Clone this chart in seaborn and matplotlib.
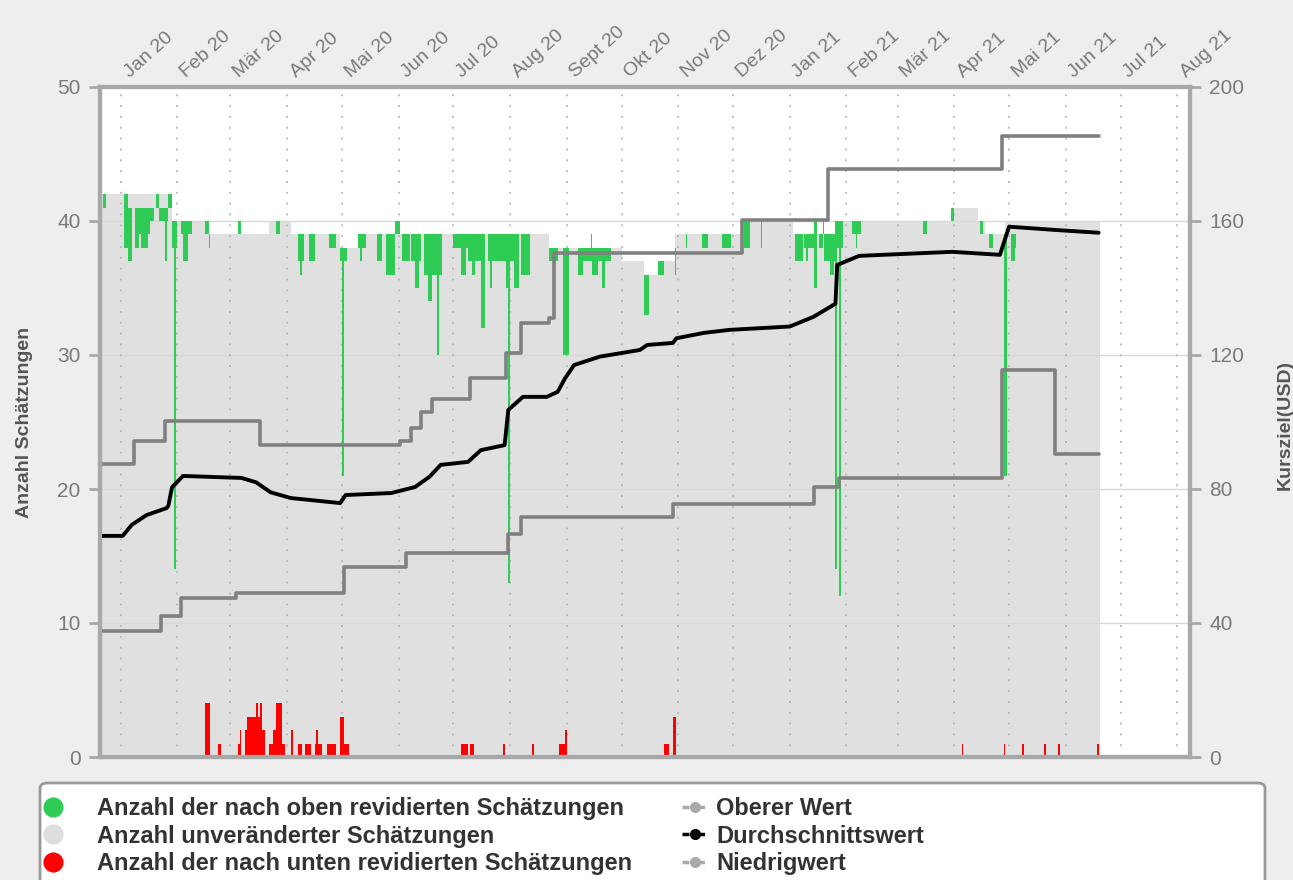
import numpy as np
import pandas as pd
import matplotlib
matplotlib.use("Agg")
import matplotlib.pyplot as plt
import matplotlib.dates as mdates
from matplotlib.lines import Line2D
from matplotlib.patches import FancyBboxPatch
import seaborn as sns

# ---------------- data ----------------
month_labels = ["Jan 20", "Feb 20", "Mär 20", "Apr 20", "Mai 20", "Jun 20", "Jul 20",
                "Aug 20", "Sept 20", "Okt 20", "Nov 20", "Dez 20", "Jan 21", "Feb 21",
                "Mär 21", "Apr 21", "Mai 21", "Jun 21", "Jul 21", "Aug 21"]

# total number of estimates (top of the stack), as step changes
total_start = ["2019-12-21", "2020-01-29", "2020-02-18", "2020-03-22", "2020-04-03",
               "2020-04-30", "2020-05-10", "2020-08-22", "2020-10-01", "2020-10-13",
               "2020-10-22", "2020-10-30", "2020-12-06", "2021-01-03", "2021-01-27",
               "2021-03-31", "2021-04-14", "2021-04-18", "2021-04-29"]
total_count = [42, 40, 39, 40, 39, 38, 39, 38, 37, 36, 37, 39, 40, 39, 40, 41, 40, 39, 40]
data_end = "2021-06-20"

# upward revisions (green): start day, number of days, top, bottom
up_start = ["2019-12-22", "2020-01-03", "2020-01-05", "2020-01-09", "2020-01-11", "2020-01-12",
            "2020-01-16", "2020-01-17", "2020-01-20", "2020-01-22", "2020-01-25", "2020-01-26",
            "2020-01-27", "2020-01-29", "2020-01-30", "2020-02-03", "2020-02-04", "2020-02-07",
            "2020-02-16", "2020-02-18", "2020-03-05", "2020-03-26", "2020-04-07", "2020-04-08",
            "2020-04-13", "2020-04-24", "2020-04-30", "2020-05-01", "2020-05-10", "2020-05-11",
            "2020-05-20", "2020-05-25", "2020-05-30", "2020-06-03", "2020-06-08", "2020-06-10",
            "2020-06-15", "2020-06-17", "2020-06-22", "2020-07-01", "2020-07-05", "2020-07-09",
            "2020-07-11", "2020-07-16", "2020-07-20", "2020-07-21", "2020-07-25", "2020-07-30",
            "2020-07-31", "2020-08-03", "2020-08-07", "2020-08-22", "2020-08-30", "2020-09-07",
            "2020-09-07", "2020-09-14", "2020-09-15", "2020-09-20", "2020-10-13", "2020-10-21",
            "2020-10-30", "2020-11-05", "2020-11-14", "2020-11-25", "2020-12-07", "2020-12-16",
            "2021-01-04", "2021-01-09", "2021-01-10", "2021-01-14", "2021-01-17", "2021-01-19",
            "2021-01-20", "2021-01-23", "2021-01-26", "2021-01-27", "2021-01-28", "2021-02-04",
            "2021-02-06", "2021-03-15", "2021-03-30", "2021-04-15", "2021-04-20", "2021-04-28",
            "2021-05-02", "2021-05-04"]
up_days = [2, 2, 2, 2, 1, 4, 1, 2, 2, 3, 1, 1,
           2, 3, 1, 1, 3, 2, 2, 1, 2, 2, 3, 1,
           3, 4, 4, 1, 4, 1, 3, 5, 3, 4, 5, 2,
           10, 2, 1, 8, 3, 9, 2, 2, 5, 1, 12, 2,
           1, 3, 5, 5, 3, 18, 3, 1, 3, 2, 3, 3,
           1, 1, 3, 5, 3, 1, 4, 6, 1, 2, 2, 1,
           6, 2, 1, 3, 1, 5, 1, 2, 2, 2, 2, 2,
           2, 1]
up_top = [42, 42, 41, 41, 41, 41, 41, 41, 42, 41, 41, 41,
          42, 40, 40, 40, 40, 40, 40, 39, 40, 40, 39, 39,
          39, 39, 38, 38, 39, 39, 39, 39, 40, 39, 39, 39,
          39, 39, 39, 39, 39, 39, 39, 39, 39, 39, 39, 39,
          39, 39, 39, 38, 38, 38, 38, 39, 38, 38, 36, 37,
          38, 39, 39, 39, 40, 40, 39, 39, 39, 40, 39, 40,
          39, 39, 40, 40, 40, 40, 40, 40, 41, 40, 39, 39,
          39, 39]
up_low = [41, 38, 37, 38, 39, 38, 39, 40, 41, 40, 37, 40,
          41, 38, 14, 39, 37, 39, 39, 38, 39, 39, 37, 36,
          37, 38, 37, 21, 38, 37, 37, 36, 39, 37, 37, 35,
          36, 34, 30, 38, 36, 37, 36, 32, 37, 35, 37, 35,
          13, 35, 36, 37, 30, 37, 36, 38, 36, 35, 33, 36,
          36, 38, 38, 38, 38, 38, 37, 38, 37, 35, 38, 39,
          37, 36, 14, 38, 12, 39, 38, 39, 40, 39, 38, 21,
          37, 38]

# downward revisions (red): start day, number of days, count
down_start = ["2020-02-16", "2020-02-23", "2020-03-05", "2020-03-06", "2020-03-09", "2020-03-10",
              "2020-03-15", "2020-03-16", "2020-03-17", "2020-03-18", "2020-03-22", "2020-03-24",
              "2020-03-26", "2020-03-29", "2020-04-03", "2020-04-07", "2020-04-11", "2020-04-16",
              "2020-04-17", "2020-04-18", "2020-04-23", "2020-04-30", "2020-05-02", "2020-07-05",
              "2020-07-10", "2020-07-28", "2020-08-13", "2020-08-28", "2020-08-31", "2020-10-24",
              "2020-10-29", "2021-04-05", "2021-04-28", "2021-05-08", "2021-05-20", "2021-05-28",
              "2021-06-18"]
down_days = [3, 2, 1, 1, 1, 5, 1, 1, 1, 2, 2, 2,
             3, 2, 1, 2, 3, 1, 1, 2, 5, 2, 3, 4,
             2, 1, 1, 4, 1, 3, 2, 1, 1, 1, 1, 1,
             1]
down_count = [4, 1, 1, 2, 2, 3, 4, 3, 4, 2, 1, 2,
              4, 1, 2, 1, 1, 1, 2, 1, 1, 3, 1, 1,
              1, 1, 1, 1, 2, 1, 3, 1, 1, 1, 1, 1,
              1]

# price targets (USD)
upper_date = ["2019-12-21", "2020-01-08", "2020-01-25", "2020-03-17", "2020-06-02", "2020-06-08",
              "2020-06-13", "2020-06-19", "2020-07-10", "2020-07-30", "2020-08-07", "2020-08-22",
              "2020-08-25", "2020-12-06", "2021-01-22", "2021-04-27", "2021-06-19"]
upper_value = [87.5, 94.3, 100.3, 93.1, 94.3, 98.2, 103, 107, 113, 120.6, 129.5, 131,
               150.4, 160.3, 175.5, 185.4, 185.4]

low_date = ["2019-12-21", "2020-01-23", "2020-02-03", "2020-03-04", "2020-05-02", "2020-06-05",
            "2020-07-31", "2020-08-07", "2020-10-29", "2021-01-14", "2021-01-28", "2021-04-27",
            "2021-05-26", "2021-06-19"]
low_value = [37.6, 42.1, 47.5, 49, 56.7, 60.9, 66.5, 71.5, 75.5, 80.6, 83.3, 115.5, 90.4, 90.4]

mean_date = ["2019-12-21", "2020-01-02", "2020-01-07", "2020-01-15", "2020-01-26", "2020-01-27",
             "2020-01-29", "2020-02-04", "2020-03-07", "2020-03-15", "2020-03-23", "2020-04-03",
             "2020-04-30", "2020-05-03", "2020-05-28", "2020-06-10", "2020-06-18", "2020-06-24",
             "2020-07-09", "2020-07-16", "2020-07-29", "2020-07-31", "2020-08-08", "2020-08-21",
             "2020-08-27", "2020-08-31", "2020-09-05", "2020-09-19", "2020-10-11", "2020-10-15",
             "2020-10-29", "2020-10-31", "2020-11-15", "2020-11-29", "2021-01-01", "2021-01-14",
             "2021-01-26", "2021-01-27", "2021-02-08", "2021-03-31", "2021-04-26", "2021-05-01",
             "2021-05-27", "2021-06-19"]
mean_value = [66, 66, 69.3, 72.2, 74.3, 75, 80.5, 83.9, 83.3, 82, 79, 77.3,
              75.8, 78.2, 78.8, 80.6, 83.7, 87.2, 88.1, 91.6, 93.1, 103.6, 107.5, 107.5,
              109, 113, 117, 119.5, 121.5, 123, 123.6, 125, 126.6, 127.5, 128.5, 131.4,
              135.3, 146.9, 149.6, 150.8, 149.9, 158.3, 157.3, 156.5]

# ---------------- styling ----------------
GREEN = "#2ecc55"
RED = "#ff0000"
GREY_FILL = "#e0e0e0"
LINE_GREY = "#808080"
AXIS_GREY = "#a8a8a8"
TEXT_GREY = "#7a7a7a"
DARK = "#333333"

sns.set_style("white")
plt.rcParams["font.family"] = ["Liberation Sans", "DejaVu Sans"]


def dnum(values):
    return mdates.date2num(pd.to_datetime(values))


fig = plt.figure(figsize=(12.93, 8.8), dpi=100, facecolor="#eeeeee")
ax = fig.add_axes([100 / 1293, 123 / 880, 1090 / 1293, 670 / 880])
ax.set_facecolor("white")

# stacked counts
tx = dnum(total_start + [data_end])
ty = total_count + [total_count[-1]]
ax.fill_between(tx, ty, step="post", color=GREY_FILL, linewidth=0, zorder=1)

month_pos = dnum(pd.date_range("2020-01-01", periods=len(month_labels), freq="MS"))
for m in month_pos:
    ax.axvline(m, color="#b4b4b4", linestyle=(0, (1, 5)), linewidth=1.3, zorder=1.5)
for yv in [10, 20, 30, 40]:
    ax.axhline(yv, color="#d8d8d8", linewidth=1, zorder=1.4)

ax.bar(dnum(up_start), np.array(up_top) - np.array(up_low), width=up_days,
       bottom=up_low, align="edge", color=GREEN, linewidth=0, zorder=2)
ax.bar(dnum(down_start), down_count, width=down_days, align="edge",
       color=RED, linewidth=0, zorder=2)

ax.set_xlim(dnum(["2019-12-21"])[0] - 0.4, dnum(["2021-08-08"])[0])
ax.set_ylim(0, 50)
ax.set_yticks([0, 10, 20, 30, 40, 50])
ax.set_xticks(month_pos)
ax.set_xticklabels(month_labels, rotation=42, ha="left", fontsize=14, color=TEXT_GREY)
ax.tick_params(axis="x", top=True, bottom=False, labeltop=True, labelbottom=False,
               length=0, pad=4)
ax.tick_params(axis="y", length=8, width=2, color=AXIS_GREY, labelcolor=TEXT_GREY,
               labelsize=15, pad=6)

# price target lines
ax2 = ax.twinx()
sns.lineplot(x=dnum(upper_date), y=upper_value, ax=ax2, color=LINE_GREY, linewidth=2.6,
             drawstyle="steps-post", estimator=None)
sns.lineplot(x=dnum(low_date), y=low_value, ax=ax2, color=LINE_GREY, linewidth=2.6,
             drawstyle="steps-post", estimator=None)
sns.lineplot(x=dnum(mean_date), y=mean_value, ax=ax2, color="black", linewidth=2.8,
             estimator=None, solid_capstyle="round")
ax2.set_ylim(0, 200)
ax2.set_yticks([0, 40, 80, 120, 160, 200])
ax2.set_xlim(ax.get_xlim())
ax2.set_ylabel("")
ax2.tick_params(axis="y", length=8, width=2, color=AXIS_GREY, labelcolor=TEXT_GREY,
                labelsize=15, pad=6)

for a in (ax, ax2):
    for s in a.spines.values():
        s.set_color(AXIS_GREY)
        s.set_linewidth(3)
    a.grid(False)

fig.text(25 / 1293, 1 - 422 / 880, "Anzahl Schätzungen", rotation=90, ha="center",
         va="center", fontsize=14, fontweight="bold", color="#555555")
fig.text(1285 / 1293, 1 - 425 / 880, "Kursziel(USD)", rotation=90, ha="center",
         va="center", fontsize=14, fontweight="bold", color="#555555")

# legend box
box = FancyBboxPatch((40 / 1293, -0.05), 1225 / 1293, 1 - 783 / 880 + 0.05,
                     boxstyle="round,pad=0,rounding_size=0.006", transform=fig.transFigure,
                     facecolor="white", edgecolor="#999999", linewidth=2, zorder=0)
fig.patches.append(box)

circle_handles = [Line2D([], [], linestyle="", marker="o", markersize=13.5,
                         markerfacecolor=c, markeredgecolor=c)
                  for c in [GREEN, "#dddddd", RED]]
leg1 = fig.legend(circle_handles,
                  ["Anzahl der nach oben revidierten Schätzungen",
                   "Anzahl unveränderter Schätzungen",
                   "Anzahl der nach unten revidierten Schätzungen"],
                  loc="upper left", bbox_to_anchor=(27 / 1293, 1 - 785 / 880),
                  frameon=False, borderpad=0, handlelength=1.2, handletextpad=1.25,
                  labelspacing=0.2, prop={"weight": "bold", "size": 17})
for t in leg1.get_texts():
    t.set_color(DARK)

line_handles = [Line2D([], [], color=c, linestyle=(0, (2, 2.5)), linewidth=2.5,
                       marker="o", markersize=7, markerfacecolor=c, markeredgecolor=c)
                for c in ["#aaaaaa", "black", "#aaaaaa"]]
leg2 = fig.legend(line_handles, ["Oberer Wert", "Durchschnittswert", "Niedrigwert"],
                  loc="upper left", bbox_to_anchor=(670 / 1293, 1 - 785 / 880),
                  frameon=False, borderpad=0, handlelength=1.15, handletextpad=0.3,
                  labelspacing=0.2, prop={"weight": "bold", "size": 17})
for t in leg2.get_texts():
    t.set_color(DARK)

fig.savefig("out.png", dpi=100, facecolor=fig.get_facecolor())
